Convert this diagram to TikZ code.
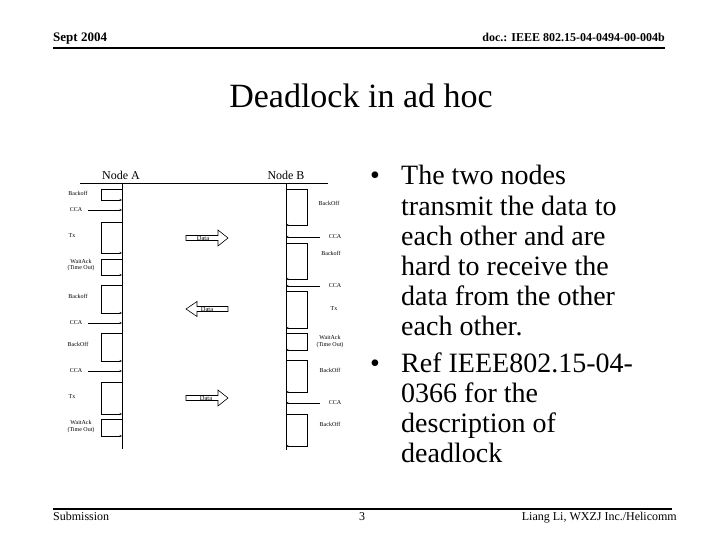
\documentclass[tikz,border=0pt]{standalone}
\usepackage{fontspec}
\setmainfont{Liberation Serif}
\usetikzlibrary{arrows.meta}
\begin{document}
\begin{tikzpicture}[x=1pt,y=-1pt,
  lbl/.style={font=\fontsize{6}{6.5}\selectfont, inner sep=0pt, align=center},
  evt/.style={line width=0.6pt},
  tipend/.style={-{Stealth[length=2.5pt,width=2pt]}},
  blk/.style={draw, line width=0.6pt, fill=white},
  datalbl/.style={font=\fontsize{6.5}{7}\selectfont, inner sep=0pt},
  bul/.style={font=\fontsize{28}{30}\selectfont, anchor=base west, inner sep=0pt},
  hdr/.style={font=\fontsize{13}{13}\selectfont\bfseries, inner sep=0pt},
  ftr/.style={font=\fontsize{12}{12}\selectfont, inner sep=0pt},
]
\useasboundingbox (0,0) rectangle (720,540);

% header
\node[hdr, anchor=base west] (hdl) at (53,42) {Sept 2004};
\node[hdr, anchor=base east, font=\fontsize{12}{12}\selectfont\bfseries] (hdrr) at (665,42) {doc.: IEEE 802.15-04-0494-00-004b};
\coordinate (hl0) at (53,48);
\coordinate (hl1) at (665,48);
\draw[line width=2.5pt] (hl0) -- (hl1);

% title
\node[font=\fontsize{34}{34}\selectfont, anchor=base, inner sep=0pt] (title) at (361,108) {Deadlock in ad hoc};

% diagram
\node[font=\fontsize{12}{12}\selectfont, inner sep=0pt] (na) at (121,175) {Node A};
\node[font=\fontsize{12}{12}\selectfont, inner sep=0pt] (nb) at (286,175) {Node B};
\coordinate (top0) at (80,183);
\coordinate (top1) at (328,183);
\draw[line width=0.7pt] (top0) -- (top1);
\coordinate (a0) at (122,183);
\coordinate (a1) at (122,449);
\coordinate (b0) at (286,183);
\coordinate (b1) at (286,450);
\draw[line width=0.8pt] (a0) -- (a1);
\draw[line width=0.8pt] (b0) -- (b1);

% left events
\foreach \t/\b in {189/200, 222/253, 259/275, 285/313, 333/361, 382/414, 419/436}
  \draw[evt,tipend] (122,\t) -- (101,\t) -- (101,\b) -- (122,\b);
\foreach \y in {210,323,371}
  \draw[evt,tipend] (88,\y) -- (122,\y);

% right events
\foreach \t/\b in {189/225, 243/279, 291/328, 333/350, 360/392, 414/446}
  \draw[evt,tipend] (286,\t) -- (307,\t) -- (307,\b) -- (286,\b);
\foreach \y in {237,286,403}
  \draw[evt,tipend] (320,\y) -- (286,\y);

% left labels
\node[lbl] (la1) at (78,193) {Backoff};
\node[lbl] (la2) at (76,210) {CCA};
\node[lbl] (la3) at (72,236) {Tx};
\node[lbl] (la4) at (81,265) {WaitAck\\(Time Out)};
\node[lbl] (la5) at (78,296) {Backoff};
\node[lbl] (la6) at (76,323) {CCA};
\node[lbl] (la7) at (78,344) {BackOff};
\node[lbl] (la8) at (76,371) {CCA};
\node[lbl] (la9) at (72,397) {Tx};
\node[lbl] (la10) at (81,426.5) {WaitAck\\(Time Out)};

% right labels
\node[lbl] (lb1) at (329,203) {BackOff};
\node[lbl] (lb2) at (335,237) {CCA};
\node[lbl] (lb3) at (331,253) {Backoff};
\node[lbl] (lb4) at (335,286) {CCA};
\node[lbl] (lb5) at (334,309) {Tx};
\node[lbl] (lb6) at (330,341.5) {WaitAck\\(Time Out)};
\node[lbl] (lb7) at (330,370) {BackOff};
\node[lbl] (lb8) at (335,403) {CCA};
\node[lbl] (lb9) at (330,424) {BackOff};

% data block arrows
\draw[blk] (186,235.5) -- (218,235.5) -- (218,230) -- (228,238) -- (218,246) -- (218,240.5) -- (186,240.5) -- cycle;
\node[datalbl] (d1) at (203,238) {Data};
\draw[blk] (228,306.5) -- (197,306.5) -- (197,301.5) -- (186,309) -- (197,316.5) -- (197,311.5) -- (228,311.5) -- cycle;
\node[datalbl] (d2) at (207,309) {Data};
\draw[blk] (186,395.5) -- (218,395.5) -- (218,390) -- (228,398) -- (218,406) -- (218,400.5) -- (186,400.5) -- cycle;
\node[datalbl] (d3) at (206,398) {Data};

% bullets
\node[bul] (bu1) at (370,185) {•};
\node[bul] (t1) at (401,185) {The two nodes};
\node[bul] (t2) at (401,215) {transmit the data to};
\node[bul] (t3) at (401,245) {each other and are};
\node[bul] (t4) at (401,275) {hard to receive the};
\node[bul] (t5) at (401,305) {data from the other};
\node[bul] (t6) at (401,335) {each other.};
\node[bul] (bu2) at (370,372) {•};
\node[bul] (t7) at (401,372) {Ref IEEE802.15-04-};
\node[bul] (t8) at (401,402) {0366 for the};
\node[bul] (t9) at (401,432) {description of};
\node[bul] (t10) at (401,462) {deadlock};

% footer
\coordinate (fl0) at (53,509);
\coordinate (fl1) at (672,509);
\draw[line width=2pt] (fl0) -- (fl1);
\node[ftr, anchor=base west] (sub) at (53,520) {Submission};
\node[ftr, anchor=base] (pg) at (362,520) {3};
\node[ftr, anchor=base east] (auth) at (677,520) {Liang Li, WXZJ Inc./Helicomm};
\end{tikzpicture}
\end{document}
